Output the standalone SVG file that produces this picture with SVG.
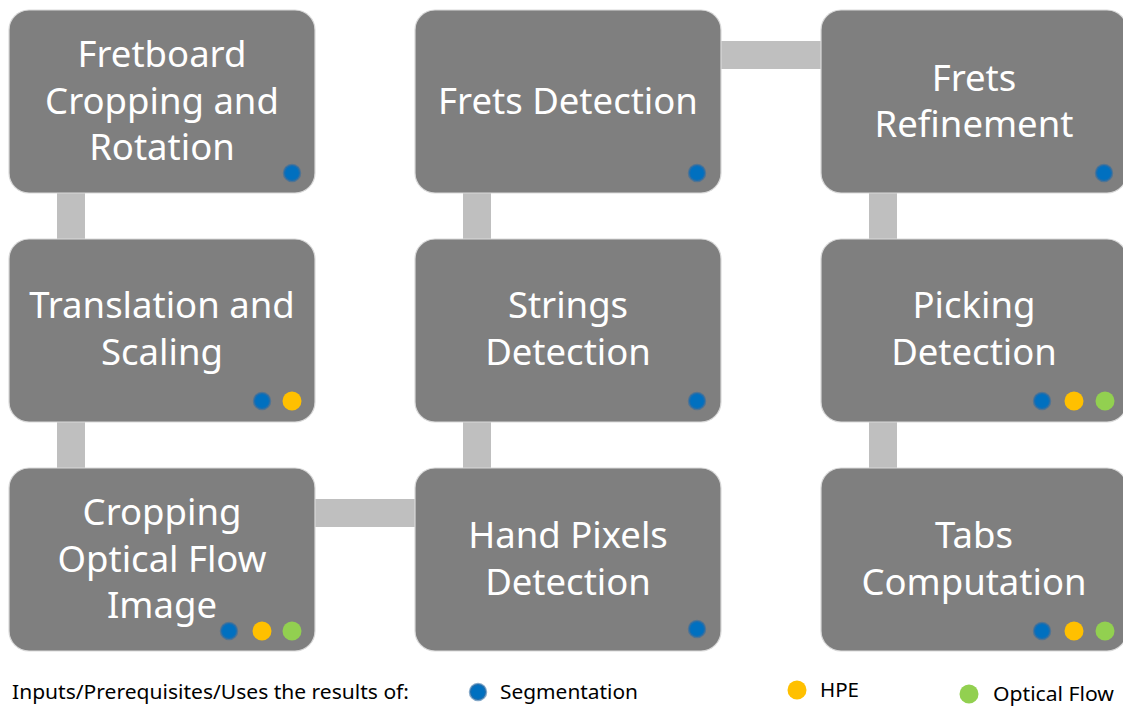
<svg xmlns="http://www.w3.org/2000/svg" width="1123" height="707" viewBox="0 0 1123 707">
  <style>
    .box { fill: #7f7f7f; stroke: #d9d9d9; stroke-width: 1.2; }
    .link { fill: #bfbfbf; }
    .label { font-family: "Noto Sans", "Open Sans", sans-serif; font-size: 36.5px; fill: #ffffff; text-anchor: middle; }
    .seg { fill: #0070c0; stroke: #2e6da4; stroke-opacity: 0.6; stroke-width: 2.5; }
    .hpe { fill: #ffc000; }
    .of { fill: #92d050; }
    .legend { font-family: "Noto Sans", "Open Sans", sans-serif; font-size: 20px; fill: #000000; }
  </style>
  <rect width="1123" height="707" fill="#ffffff"/>

  <!-- connectors -->
  <g id="connectors">
    <rect class="link" x="57" y="192" width="28" height="48"/>
    <rect class="link" x="57" y="421" width="28" height="48"/>
    <rect class="link" x="314" y="499" width="102" height="28"/>
    <rect class="link" x="463" y="421" width="28" height="48"/>
    <rect class="link" x="463" y="192" width="28" height="48"/>
    <rect class="link" x="720" y="41" width="102" height="28"/>
    <rect class="link" x="869" y="192" width="28" height="48"/>
    <rect class="link" x="869" y="421" width="28" height="48"/>
  </g>

  <!-- column 1 -->
  <g id="fretboard-cropping">
    <rect class="box" x="9" y="10" width="306" height="183" rx="20"/>
    <text class="label" x="162" y="67">Fretboard</text>
    <text class="label" x="162" y="113.5">Cropping and</text>
    <text class="label" x="162" y="160">Rotation</text>
    <circle class="seg" cx="292" cy="173" r="8"/>
  </g>
  <g id="translation-scaling">
    <rect class="box" x="9" y="239" width="306" height="183" rx="20"/>
    <text class="label" x="162" y="318">Translation and</text>
    <text class="label" x="162" y="364.5">Scaling</text>
    <circle class="seg" cx="262" cy="401" r="8"/>
    <circle class="hpe" cx="292" cy="401" r="9.5"/>
  </g>
  <g id="cropping-optical-flow">
    <rect class="box" x="9" y="468" width="306" height="183" rx="20"/>
    <text class="label" x="162" y="525">Cropping</text>
    <text class="label" x="162" y="571.5">Optical Flow</text>
    <text class="label" x="162" y="618">Image</text>
    <circle class="seg" cx="229" cy="631" r="8"/>
    <circle class="hpe" cx="262" cy="631" r="9.5"/>
    <circle class="of" cx="292" cy="631" r="9.5"/>
  </g>

  <!-- column 2 -->
  <g id="frets-detection">
    <rect class="box" x="415" y="10" width="306" height="183" rx="20"/>
    <text class="label" x="568" y="113.5">Frets Detection</text>
    <circle class="seg" cx="697" cy="173" r="8"/>
  </g>
  <g id="strings-detection">
    <rect class="box" x="415" y="239" width="306" height="183" rx="20"/>
    <text class="label" x="568" y="318">Strings</text>
    <text class="label" x="568" y="364.5">Detection</text>
    <circle class="seg" cx="697" cy="401" r="8"/>
  </g>
  <g id="hand-pixels-detection">
    <rect class="box" x="415" y="468" width="306" height="183" rx="20"/>
    <text class="label" x="568" y="548">Hand Pixels</text>
    <text class="label" x="568" y="594.5">Detection</text>
    <circle class="seg" cx="697" cy="629" r="8"/>
  </g>

  <!-- column 3 -->
  <g id="frets-refinement">
    <rect class="box" x="821" y="10" width="306" height="183" rx="20"/>
    <text class="label" x="974" y="90.5">Frets</text>
    <text class="label" x="974" y="137">Refinement</text>
    <circle class="seg" cx="1104" cy="173" r="8"/>
  </g>
  <g id="picking-detection">
    <rect class="box" x="821" y="239" width="306" height="183" rx="20"/>
    <text class="label" x="974" y="318">Picking</text>
    <text class="label" x="974" y="364.5">Detection</text>
    <circle class="seg" cx="1042" cy="401" r="8"/>
    <circle class="hpe" cx="1074" cy="401" r="9.5"/>
    <circle class="of" cx="1105" cy="401" r="9.5"/>
  </g>
  <g id="tabs-computation">
    <rect class="box" x="821" y="468" width="306" height="183" rx="20"/>
    <text class="label" x="974" y="548">Tabs</text>
    <text class="label" x="974" y="594.5">Computation</text>
    <circle class="seg" cx="1042" cy="631" r="8"/>
    <circle class="hpe" cx="1074" cy="631" r="9.5"/>
    <circle class="of" cx="1105" cy="631" r="9.5"/>
  </g>

  <!-- legend -->
  <g id="legend">
    <text class="legend" x="12" y="699" textLength="397" lengthAdjust="spacingAndGlyphs">Inputs/Prerequisites/Uses the results of:</text>
    <circle class="seg" cx="478" cy="692" r="8"/>
    <text class="legend" x="500" y="699" textLength="138" lengthAdjust="spacingAndGlyphs">Segmentation</text>
    <circle class="hpe" cx="797" cy="690" r="9.5"/>
    <text class="legend" x="820" y="697" textLength="39" lengthAdjust="spacingAndGlyphs">HPE</text>
    <circle class="of" cx="969" cy="694" r="9.5"/>
    <text class="legend" x="993" y="701" textLength="121" lengthAdjust="spacingAndGlyphs">Optical Flow</text>
  </g>
</svg>
